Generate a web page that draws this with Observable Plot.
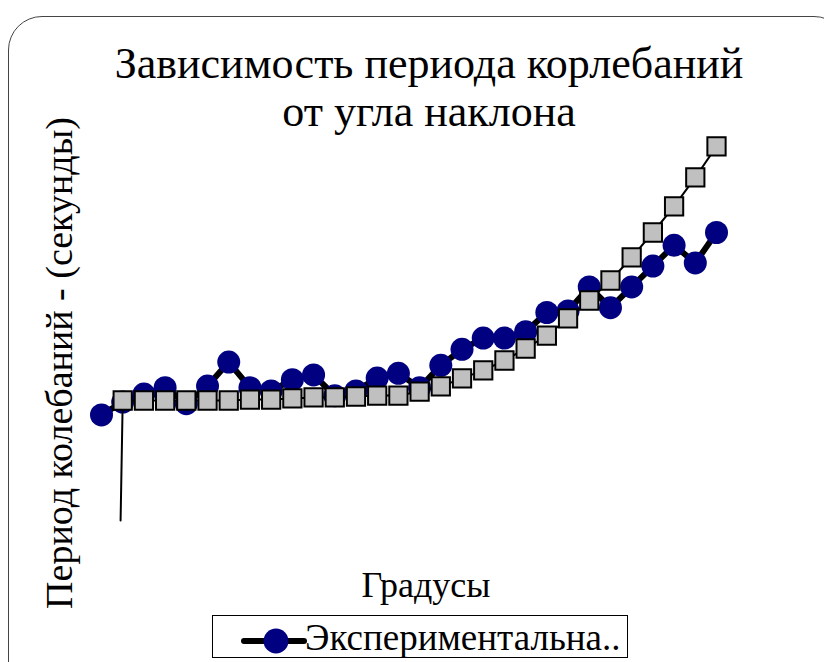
<!DOCTYPE html>
<html><head><meta charset="utf-8">
<script src="https://cdn.jsdelivr.net/npm/d3@7"></script>
<script src="https://cdn.jsdelivr.net/npm/@observablehq/plot@0.6"></script>
<style>
html,body{margin:0;padding:0;background:#fff;overflow:hidden;}
#wrap{position:relative;width:824px;height:662px;overflow:hidden;font-family:"Liberation Serif","Times New Roman",serif;color:#000;}
#frame{position:absolute;left:8px;top:16px;width:840px;height:700px;border:1px solid #444;border-radius:34px;box-sizing:border-box;}
#chart{position:absolute;left:0;top:0;}
.t{position:absolute;white-space:nowrap;line-height:1;}
#title{left:0;width:858px;top:40px;text-align:center;font-size:44px;line-height:48px;}
#ylab{left:59px;top:363px;font-size:38px;transform:translate(-50%,-50%) rotate(-90deg);}
#xlab{left:426px;top:567px;font-size:36px;transform:translateX(-50%);}
#legend{position:absolute;left:212px;top:615px;width:416px;height:43px;border:1px solid #000;box-sizing:border-box;background:#fff;}
#legend svg{position:absolute;left:28px;top:10px;}
#legtext{left:92px;top:3px;font-size:37px;}
</style></head>
<body>
<div id="wrap">
  <div id="frame"></div>
  <div id="chart"></div>
  <div class="t" id="title">Зависимость периода корлебаний<br>от угла наклона</div>
  <div class="t" id="ylab">Период колебаний - (секунды)</div>
  <div class="t" id="xlab">Градусы</div>
  <div id="legend">
    <svg width="66" height="30"><line x1="3" y1="15" x2="63" y2="15" stroke="#000" stroke-width="6" stroke-linecap="round"/><circle cx="35" cy="15" r="12.5" fill="#000080"/></svg>
    <div class="t" id="legtext">Экспериментальна..</div>
  </div>
</div>
<script>
// Angle index (x) and measured periods (seconds)
const expX = d3.range(0, 30);
const expY = [0.91, 0.99, 1.04, 1.08, 0.98, 1.09, 1.24, 1.08, 1.06, 1.13,
              1.16, 1.03, 1.06, 1.14, 1.17, 1.08, 1.22, 1.32, 1.39, 1.39,
              1.43, 1.55, 1.56, 1.71, 1.58, 1.71, 1.84, 1.97, 1.86, 2.05];
// Theoretical curve
const thX = [0.9, 1, 2, 3, 4, 5, 6, 7, 8, 9, 10, 11, 12, 13, 14, 15, 16, 17, 18, 19, 20, 21, 22, 23, 24, 25, 26, 27, 28, 29];
const thY = [0.25, 1.0, 1.0, 1.0, 1.0, 1.0, 1.0, 1.006, 1.006, 1.013, 1.019,
             1.019, 1.025, 1.031, 1.031, 1.056, 1.088, 1.138, 1.188, 1.25, 1.325,
             1.406, 1.513, 1.625, 1.75, 1.894, 2.05, 2.213, 2.394, 2.588];
const thMarked = thX.map((x, i) => i > 0);

const exp = expX.map((x, i) => ({x, y: expY[i]}));
const th = thX.map((x, i) => ({x, y: thY[i], m: thMarked[i]}));

const chart = Plot.plot({
  width: 824, height: 662,
  marginLeft: 101, marginRight: 108, marginTop: 144, marginBottom: 142,
  x: {domain: [0, 29], axis: null},
  y: {domain: [0.25, 2.6], axis: null},
  marks: [
    Plot.line(exp, {x: "x", y: "y", stroke: "#000", strokeWidth: 6}),
    Plot.dot(exp, {x: "x", y: "y", r: 11.5, fill: "#000080", stroke: "none"}),
    Plot.line(th, {x: "x", y: "y", stroke: "#000", strokeWidth: 2}),
    Plot.dot(th.filter(d => d.m), {x: "x", y: "y", symbol: "square", r: 10.3, fill: "#c0c0c0", stroke: "#000", strokeWidth: 2})
  ]
});
document.getElementById("chart").appendChild(chart);
</script>
</body></html>
